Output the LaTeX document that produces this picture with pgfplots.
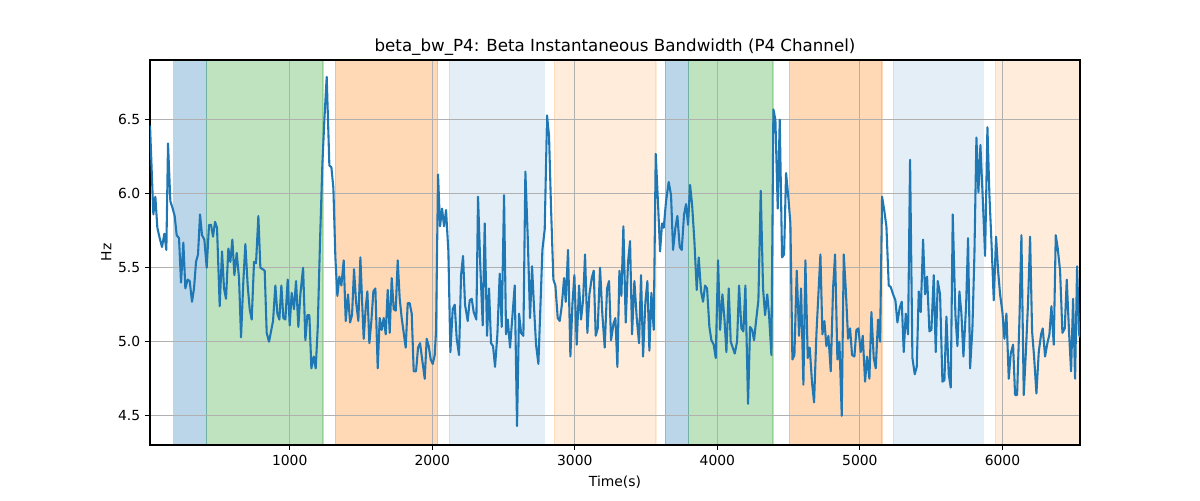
\documentclass[border=0pt]{standalone}
\usepackage{fontspec}
\setmainfont{DejaVu Sans}
\usepackage{pgfplots}
\pgfplotsset{compat=1.18}
\definecolor{tabblue}{HTML}{1F77B4}
\definecolor{taborange}{HTML}{FF7F0E}
\definecolor{tabgreen}{HTML}{2CA02C}
\definecolor{gridgray}{HTML}{B0B0B0}
\pgfplotsset{base/.style={
  at={(0,0)}, anchor=south west,
  scale only axis, width=669.6pt, height=277.2pt,
  xmin=20, xmax=6544, ymin=4.302, ymax=6.904}}
\begin{document}
\begin{tikzpicture}
\path[use as bounding box] (-108pt,-39.6pt) rectangle (756pt,320.4pt);
\begin{axis}[base, hide axis]
\addplot[fill=tabblue, fill opacity=0.3, draw=tabblue, draw opacity=0.3, line width=1pt] coordinates {(186,3) (186,8) (417,8) (417,3)} -- cycle;
\addplot[fill=tabgreen, fill opacity=0.3, draw=tabgreen, draw opacity=0.3, line width=1pt] coordinates {(417,3) (417,8) (1234,8) (1234,3)} -- cycle;
\addplot[fill=taborange, fill opacity=0.3, draw=taborange, draw opacity=0.3, line width=1pt] coordinates {(1320,3) (1320,8) (2038,8) (2038,3)} -- cycle;
\addplot[fill=tabblue, fill opacity=0.12, draw=tabblue, draw opacity=0.12, line width=1pt] coordinates {(2120,3) (2120,8) (2787,8) (2787,3)} -- cycle;
\addplot[fill=taborange, fill opacity=0.15, draw=taborange, draw opacity=0.15, line width=1pt] coordinates {(2857,3) (2857,8) (3570,8) (3570,3)} -- cycle;
\addplot[fill=tabblue, fill opacity=0.3, draw=tabblue, draw opacity=0.3, line width=1pt] coordinates {(3635,3) (3635,8) (3799,8) (3799,3)} -- cycle;
\addplot[fill=tabgreen, fill opacity=0.3, draw=tabgreen, draw opacity=0.3, line width=1pt] coordinates {(3799,3) (3799,8) (4391,8) (4391,3)} -- cycle;
\addplot[fill=taborange, fill opacity=0.3, draw=taborange, draw opacity=0.3, line width=1pt] coordinates {(4505,3) (4505,8) (5156,8) (5156,3)} -- cycle;
\addplot[fill=tabblue, fill opacity=0.12, draw=tabblue, draw opacity=0.12, line width=1pt] coordinates {(5235,3) (5235,8) (5866,8) (5866,3)} -- cycle;
\addplot[fill=taborange, fill opacity=0.15, draw=taborange, draw opacity=0.15, line width=1pt] coordinates {(5950,3) (5950,8) (6600,8) (6600,3)} -- cycle;
\end{axis}
\begin{axis}[base,
  xtick={1000,2000,3000,4000,5000,6000},
  ytick={4.5,5.0,5.5,6.0,6.5},
  yticklabel style={/pgf/number format/.cd,fixed,fixed zerofill,precision=1},
  xticklabel style={/pgf/number format/.cd,1000 sep={}},
  /pgf/number format/assume math mode=true,
  tick label style={font=\fontsize{10}{12}\selectfont},
  tick align=outside, tick pos=left,
  major tick length=3.5pt,
  every tick/.style={black, line width=0.8pt},
  axis line style={line width=0.8pt},
  grid=major,
  major grid style={gridgray, line width=0.8pt},
  title={beta\_bw\_P4: Beta Instantaneous Bandwidth (P4 Channel)},
  title style={font=\fontsize{12}{14}\selectfont, yshift=-6.5pt},
  xlabel={Time(s)}, ylabel={Hz},
  label style={font=\fontsize{10}{12}\selectfont},
  xlabel style={yshift=-1pt},
  ylabel style={yshift=-2pt},
]
\addplot[tabblue, line width=1.5pt, mark=none, line join=round] table {
x y
20.2 6.46
43.5 5.86
57.6 5.98
71.6 5.77
88.0 5.70
104.3 5.64
120.7 5.73
134.7 5.62
146.4 6.34
162.8 5.95
179.2 5.90
193.2 5.85
207.2 5.72
223.6 5.70
237.6 5.40
254.0 5.67
268.0 5.36
284.4 5.42
298.4 5.41
314.8 5.27
328.8 5.36
342.9 5.54
356.9 5.59
370.9 5.86
385.0 5.72
401.3 5.69
417.7 5.50
434.1 5.79
448.1 5.79
462.1 5.71
476.2 5.81
490.2 5.77
508.9 5.24
525.3 5.61
539.3 5.36
553.3 5.29
569.7 5.63
583.7 5.54
597.8 5.69
611.8 5.45
628.2 5.60
644.5 5.43
658.6 5.03
674.9 5.41
689.0 5.66
705.3 5.38
719.4 5.22
733.4 5.15
749.8 5.54
763.8 5.53
780.2 5.85
794.2 5.50
810.6 5.49
824.6 5.48
838.6 5.06
855.0 5.00
869.0 5.07
883.1 5.14
899.4 5.38
913.5 5.19
927.5 5.15
941.5 5.38
955.6 5.16
969.6 5.15
986.0 5.42
1000.0 5.11
1014.0 5.33
1030.4 5.22
1044.4 5.41
1060.8 5.10
1074.8 5.32
1094.0 5.50
1109.9 5.01
1123.9 5.18
1138.0 5.18
1152.0 4.82
1168.4 4.90
1182.4 4.82
1196.4 5.09
1212.8 5.68
1229.2 6.20
1243.2 6.50
1259.6 6.79
1278.3 6.19
1292.3 6.18
1306.3 6.04
1320.4 5.57
1334.4 5.31
1348.4 5.44
1362.5 5.38
1378.8 5.55
1392.9 5.14
1409.2 5.32
1423.3 5.13
1437.3 5.18
1451.3 5.49
1465.4 5.27
1481.7 5.14
1495.8 5.57
1509.8 5.23
1519.1 5.02
1533.2 5.23
1544.9 5.34
1558.9 4.99
1572.9 5.14
1587.0 5.34
1601.0 5.36
1617.3 4.82
1631.4 5.16
1645.4 5.08
1659.4 5.16
1673.5 5.05
1687.5 5.35
1701.5 5.06
1715.6 5.43
1729.6 5.22
1743.6 5.21
1757.7 5.55
1771.7 5.29
1785.7 5.16
1799.8 5.06
1813.8 4.96
1827.8 5.26
1841.9 5.26
1855.9 5.19
1869.9 4.80
1886.3 4.80
1900.3 4.96
1914.4 4.99
1930.7 4.87
1947.1 4.75
1961.1 5.02
1975.1 4.97
1989.2 4.88
2003.2 4.85
2017.2 4.91
2026.6 5.07
2040.6 6.13
2054.7 5.78
2068.7 5.90
2082.7 5.78
2096.7 5.89
2113.1 5.61
2127.2 4.93
2143.5 5.22
2157.5 5.25
2171.6 5.02
2187.9 4.91
2202.0 5.45
2216.0 5.58
2230.0 5.25
2248.7 5.14
2262.8 5.28
2276.8 5.29
2290.8 5.20
2309.5 5.15
2321.2 5.98
2337.6 5.50
2354.0 5.11
2368.0 5.80
2384.4 5.04
2398.4 5.36
2412.4 4.99
2426.5 4.97
2440.5 4.83
2456.9 5.05
2473.2 5.46
2487.3 5.10
2503.6 5.99
2517.7 5.05
2529.4 5.15
2545.7 4.96
2559.8 5.14
2578.5 5.38
2594.8 4.43
2608.9 5.19
2622.9 5.06
2639.3 5.04
2653.3 6.15
2669.7 5.71
2686.0 5.16
2700.1 5.51
2714.1 5.23
2728.1 4.98
2744.5 4.85
2758.5 5.23
2772.6 5.62
2788.9 5.76
2805.3 6.53
2819.3 6.39
2833.4 5.90
2849.7 5.42
2863.8 5.38
2880.1 5.16
2894.2 5.14
2908.2 5.24
2924.6 5.43
2936.3 5.27
2952.6 5.62
2969.0 4.90
2983.0 5.25
2997.1 5.45
3013.4 4.98
3029.8 5.38
3043.8 5.15
3057.9 5.28
3071.9 5.59
3088.3 5.06
3102.3 5.32
3118.7 5.43
3132.7 5.48
3146.7 5.04
3160.8 5.09
3177.1 5.50
3193.5 5.18
3209.9 4.96
3226.2 5.36
3240.2 5.41
3254.3 5.01
3271.0 5.12
3284.7 5.16
3298.7 4.83
3312.8 5.48
3326.8 5.31
3340.8 5.78
3357.2 5.13
3373.6 5.54
3387.6 5.68
3401.6 5.05
3418.0 5.41
3434.4 5.16
3450.7 4.99
3464.8 5.45
3478.8 4.90
3495.2 5.27
3509.2 5.41
3523.2 4.94
3537.3 5.33
3553.6 5.08
3567.6 6.27
3584.0 5.93
3598.0 5.61
3612.1 5.80
3623.8 5.77
3640.1 5.95
3658.8 6.08
3675.2 5.99
3689.3 5.62
3705.6 5.77
3719.7 5.85
3736.0 5.64
3750.0 5.62
3766.4 5.86
3780.4 5.93
3794.5 5.79
3808.5 6.06
3822.5 5.93
3838.9 5.68
3855.3 5.35
3869.3 5.57
3885.7 5.34
3899.7 5.27
3913.7 5.38
3927.8 5.36
3944.1 5.10
3958.2 5.01
3974.5 4.98
3988.6 4.89
4005.0 5.55
4019.0 5.08
4035.4 5.32
4049.4 5.16
4063.4 4.93
4079.8 5.36
4093.8 5.00
4107.9 4.96
4121.9 4.92
4138.3 5.00
4152.3 5.38
4168.7 5.09
4182.7 5.07
4196.7 5.38
4215.4 4.58
4229.5 5.10
4243.5 5.08
4257.5 5.01
4271.5 5.14
4287.9 5.28
4304.3 6.02
4320.6 5.36
4334.7 5.18
4350.0 5.32
4362.7 5.18
4379.1 4.91
4393.1 6.57
4407.2 6.50
4423.5 5.90
4437.6 6.50
4453.9 5.57
4468.0 5.59
4482.0 6.14
4498.4 5.97
4512.4 5.80
4526.4 4.88
4540.5 4.91
4556.8 5.48
4573.2 5.04
4587.2 5.36
4603.6 4.71
4617.6 5.55
4634.0 4.89
4648.0 4.96
4664.4 4.72
4678.4 4.59
4694.8 5.05
4708.8 5.32
4722.9 5.59
4736.9 5.05
4750.9 5.14
4765.0 4.97
4779.0 5.04
4795.4 4.80
4811.7 5.36
4825.8 5.59
4842.1 4.88
4856.2 5.00
4872.5 4.50
4886.6 5.59
4900.6 5.36
4917.0 5.02
4931.0 5.09
4945.0 4.91
4961.4 4.90
4975.4 5.08
4989.5 5.09
5005.8 4.93
5019.9 5.04
5036.2 4.73
5050.3 4.90
5066.6 4.75
5080.7 5.20
5097.0 4.89
5111.1 4.82
5127.4 5.15
5141.5 5.00
5155.5 5.98
5171.9 5.88
5185.9 5.78
5202.3 5.38
5216.3 5.37
5232.7 5.32
5249.0 5.28
5263.1 5.13
5279.4 5.23
5293.5 5.27
5307.5 4.93
5321.5 5.19
5337.9 5.05
5351.9 6.23
5368.3 4.89
5384.7 4.78
5398.7 4.83
5412.7 5.34
5426.7 5.20
5443.1 5.69
5457.2 5.32
5471.2 5.44
5487.6 5.07
5501.6 5.08
5518.0 5.45
5532.0 4.93
5546.0 5.41
5562.4 5.32
5578.8 4.73
5592.8 4.74
5606.8 5.17
5623.2 4.78
5637.2 4.69
5651.2 5.86
5670.0 5.18
5684.0 4.97
5698.0 5.34
5712.1 5.19
5726.1 4.90
5744.8 5.24
5758.8 5.70
5772.9 4.82
5789.2 5.09
5803.3 5.59
5817.3 6.38
5831.3 6.01
5845.3 6.33
5861.7 5.97
5878.1 5.58
5894.5 6.45
5908.5 5.99
5922.5 5.68
5938.9 5.28
5955.2 5.71
5969.3 5.48
5983.3 5.32
5999.7 5.20
6013.7 5.02
6027.7 5.19
6044.1 4.75
6058.1 4.92
6074.5 4.98
6088.5 4.64
6102.6 4.64
6118.9 5.14
6133.0 5.72
6149.3 4.64
6165.7 4.96
6179.7 5.27
6193.8 5.71
6207.8 5.07
6221.8 4.90
6238.2 4.65
6254.6 4.93
6270.9 5.05
6282.6 5.09
6299.0 4.90
6313.0 4.98
6329.4 5.05
6343.4 5.24
6359.8 4.98
6373.8 5.72
6387.8 5.63
6404.2 5.48
6420.6 5.06
6436.9 5.09
6451.0 5.42
6467.3 5.06
6481.4 4.80
6495.4 5.29
6509.4 4.75
6523.5 5.51
6537.5 5.05
6544.0 5.03
};
\end{axis}
\end{tikzpicture}
\end{document}
